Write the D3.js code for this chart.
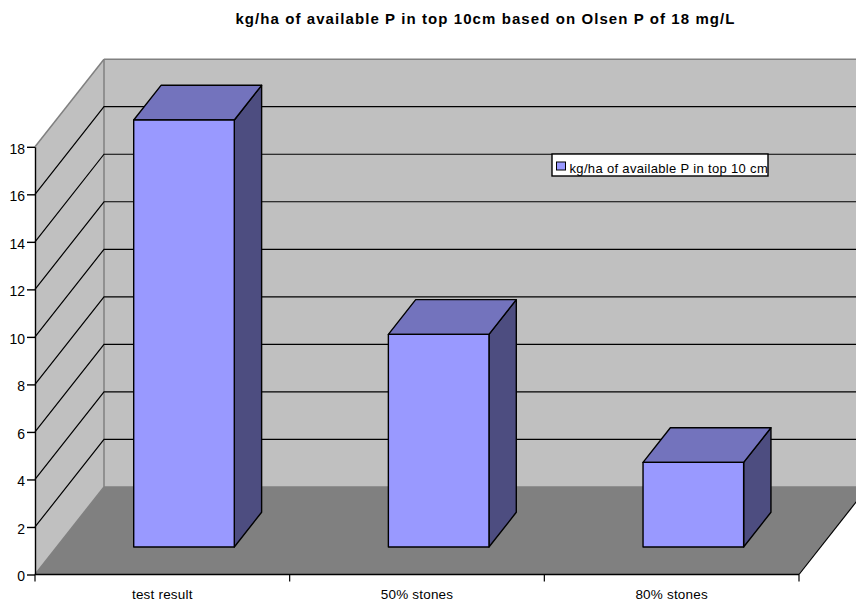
<!DOCTYPE html>
<html>
<head>
<meta charset="utf-8">
<script src="https://cdn.jsdelivr.net/npm/d3@7"></script>
<style>
  html, body { margin: 0; padding: 0; background: #fff; }
  svg { display: block; }
  text { font-family: "Liberation Sans", Arial, sans-serif; fill: #000; }
</style>
</head>
<body>
<svg id="chart" width="856" height="601"></svg>
<script>
const chartTitle = "kg/ha of available P in top 10cm based on Olsen P of 18 mg/L";
const seriesName = "kg/ha of available P in top 10 cm";
const categories = ["test result", "50% stones", "80% stones"];
const phosphorus = [17.97, 8.95, 3.56];
const valueTicks = [0, 2, 4, 6, 8, 10, 12, 14, 16, 18];

const colors = {
  wall: "#c0c0c0", floor: "#808080", wallEdge: "#808080",
  front: "#9999ff", top: "#7373bd", side: "#4d4d80"
};

const svg = d3.select("#chart");

const x = d3.scaleBand().domain(categories).range([35, 799])
  .paddingInner(0.605).paddingOuter(0.3025);
const y = d3.scaleLinear().domain([0, 18]).range([574.5, 146.8]);

// Oblique projection of the 3D box: depth runs from 0 (front) to 1 (back wall).
const DEPTH_X = 69, DEPTH_Y = -87.6;
const barDepth = [0.314, 0.71];
const px = (xv, d) => xv + d * DEPTH_X;
const py = (v, d) => y(v) + d * DEPTH_Y;
const pt = (xv, v, d) => [px(xv, d), py(v, d)];
const line = d3.line().curve(d3.curveLinearClosed);

const xL = x.range()[0], xR = x.range()[1];
const vMax = y.domain()[1];

const plot = svg.append("g");

// Back wall
plot.append("path")
  .attr("d", line([pt(xL, 0, 1), pt(xR, 0, 1), pt(xR, vMax, 1), pt(xL, vMax, 1)]))
  .attr("fill", colors.wall);
// Side wall
plot.append("path")
  .attr("d", line([pt(xL, 0, 0), pt(xL, 0, 1), pt(xL, vMax, 1), pt(xL, vMax, 0)]))
  .attr("fill", colors.wall);
// Floor
plot.append("path")
  .attr("d", line([pt(xL, 0, 0), pt(xR, 0, 0), pt(xR, 0, 1), pt(xL, 0, 1)]))
  .attr("fill", colors.floor);

// Wall edges
const edges = [
  [pt(xL, vMax, 0), pt(xL, vMax, 1)],
  [pt(xL, vMax, 1), pt(xR, vMax, 1)],
  [pt(xL, vMax, 1), pt(xL, 0, 1)],
  [pt(xL, 0, 1), pt(xR, 0, 1)],
  [pt(xL, 0, 0), pt(xL, 0, 1)]
];
plot.append("g").selectAll("line").data(edges).join("line")
  .attr("x1", d => d[0][0]).attr("y1", d => d[0][1])
  .attr("x2", d => d[1][0]).attr("y2", d => d[1][1])
  .attr("stroke", colors.wallEdge).attr("stroke-width", 1.5);

// Gridlines across the side wall and back wall
const gridTicks = valueTicks.filter(v => v > 0 && v < vMax);
plot.append("g").selectAll("path").data(gridTicks).join("path")
  .attr("d", v => d3.line()([pt(xL, v, 0), pt(xL, v, 1), pt(xR, v, 1)]))
  .attr("fill", "none").attr("stroke", "#000").attr("stroke-width", 1.2);

// Bars: back faces are hidden, so only front, top and side are drawn
const bars = plot.append("g").selectAll("g").data(categories.map((c, i) => ({ c, v: phosphorus[i] }))).join("g")
  .attr("stroke", "#000").attr("stroke-width", 1.4).attr("stroke-linejoin", "round");
const [d0, d1] = barDepth;
bars.append("path").attr("fill", colors.side).attr("d", d => {
  const r = x(d.c) + x.bandwidth();
  return line([pt(r, 0, d0), pt(r, 0, d1), pt(r, d.v, d1), pt(r, d.v, d0)]);
});
bars.append("path").attr("fill", colors.top).attr("d", d => {
  const l = x(d.c), r = l + x.bandwidth();
  return line([pt(l, d.v, d0), pt(r, d.v, d0), pt(r, d.v, d1), pt(l, d.v, d1)]);
});
bars.append("path").attr("fill", colors.front).attr("d", d => {
  const l = x(d.c), r = l + x.bandwidth();
  return line([pt(l, 0, d0), pt(r, 0, d0), pt(r, d.v, d0), pt(l, d.v, d0)]);
});

// Right edge of the floor, drawn from the front corner toward the back
plot.append("line")
  .attr("x1", px(xR, 0)).attr("y1", py(0, 0)).attr("x2", px(xR, 1)).attr("y2", py(0, 1))
  .attr("stroke", "#000").attr("stroke-width", 1.2);

// Value axis
const yAxis = svg.append("g").attr("transform", `translate(${xL},0)`)
  .call(d3.axisLeft(y).tickValues(valueTicks).tickSize(8).tickSizeOuter(0).tickPadding(2));
yAxis.selectAll("text").attr("font-size", 14).attr("dy", "0.45em")
  .style("font-family", '"Liberation Sans", Arial, sans-serif');
yAxis.selectAll("line, path").attr("stroke", "#000").attr("stroke-width", 1.4);

// Category axis: ticks mark the category boundaries, labels sit between them
const step = (xR - xL) / categories.length;
const xBase = svg.append("g");
xBase.append("line").attr("x1", xL).attr("x2", xR).attr("y1", y(0)).attr("y2", y(0))
  .attr("stroke", "#000").attr("stroke-width", 1.6);
xBase.selectAll("line.tick").data(d3.range(categories.length + 1)).join("line")
  .attr("class", "tick")
  .attr("x1", i => xL + i * step).attr("x2", i => xL + i * step)
  .attr("y1", y(0)).attr("y2", y(0) + 7)
  .attr("stroke", "#000").attr("stroke-width", 1.2);
xBase.selectAll("text").data(categories).join("text")
  .attr("x", (c, i) => xL + (i + 0.5) * step)
  .attr("y", 598.5)
  .attr("text-anchor", "middle").attr("font-size", 13.5).attr("letter-spacing", 0.2)
  .text(c => c);

// Title
svg.append("text").attr("x", 485.5).attr("y", 23.5).attr("text-anchor", "middle")
  .attr("font-size", 15).attr("font-weight", "bold").attr("letter-spacing", 1.08).text(chartTitle);

// Legend
const legend = svg.append("g");
legend.append("rect").attr("x", 552).attr("y", 154).attr("width", 216).attr("height", 22)
  .attr("fill", "#fff").attr("stroke", "#000").attr("stroke-width", 1.4);
legend.append("rect").attr("x", 556.5).attr("y", 162).attr("width", 9).attr("height", 8)
  .attr("fill", colors.front).attr("stroke", "#000").attr("stroke-width", 1);
legend.append("text").attr("x", 569.5).attr("y", 172.5).attr("font-size", 13)
  .attr("letter-spacing", 0.33).text(seriesName);
</script>
</body>
</html>
